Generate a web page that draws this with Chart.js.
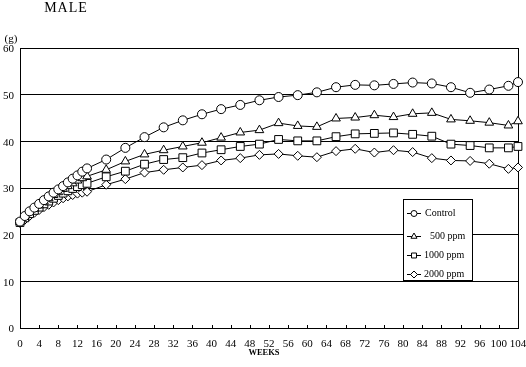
<!DOCTYPE html>
<html>
<head>
<meta charset="utf-8">
<script src="https://cdn.jsdelivr.net/npm/chart.js@4/dist/chart.umd.min.js"></script>
<style>
html,body{margin:0;padding:0;background:#fff;}
#wrap{position:relative;width:526px;height:367px;}
</style>
</head>
<body>
<div id="wrap"><canvas id="c" width="526" height="367"></canvas></div>
<script>
const weeks = [0,1,2,3,4,5,6,7,8,9,10,11,12,13,14,18,22,26,30,34,38,42,46,50,54,58,62,66,70,74,78,82,86,90,94,98,102,104];
const control = [22.8,24.0,25.0,25.8,26.6,27.4,28.2,29.0,29.7,30.4,31.2,32.0,32.7,33.5,34.2,
  36.1,38.6,40.9,43.0,44.5,45.8,46.9,47.8,48.8,49.5,49.9,50.5,51.6,52.1,52.0,52.3,52.6,52.4,51.6,50.4,51.1,51.9,52.7];
const ppm500 = [22.7,23.8,24.8,25.6,26.3,27.1,27.8,28.5,29.1,29.8,30.4,31.0,31.6,32.1,32.5,
  33.9,35.7,37.2,38.1,38.9,39.7,40.8,41.9,42.4,43.9,43.3,43.1,44.9,45.1,45.6,45.2,45.9,46.1,44.7,44.4,44.0,43.4,44.3];
const ppm1000 = [22.6,23.6,24.5,25.2,25.9,26.6,27.2,27.8,28.4,28.9,29.4,29.9,30.3,30.7,31.0,
  32.4,33.6,35.1,36.1,36.5,37.5,38.2,38.9,39.4,40.4,40.1,40.1,41.0,41.6,41.7,41.8,41.5,41.1,39.4,39.1,38.6,38.6,38.9];
const ppm2000 = [22.5,23.2,24.0,24.7,25.3,25.9,26.4,26.9,27.4,27.8,28.2,28.5,28.8,29.0,29.2,
  30.7,31.9,33.3,33.9,34.4,34.9,35.9,36.4,37.1,37.3,36.9,36.6,37.9,38.4,37.6,38.1,37.7,36.4,35.9,35.8,35.2,34.1,34.4];
const seriesLabels = ['Control','500 ppm','1000 ppm','2000 ppm'];
const seriesMarkers = ['circle','triangle','rect','rectRot'];
const seriesValues = [control, ppm500, ppm1000, ppm2000];
const xTicks = [0,4,8,12,16,20,24,28,32,36,40,44,48,52,56,60,64,68,72,76,80,84,88,92,96,100,104];
const yTicks = [0,10,20,30,40,50,60];
const chartTitle = 'MALE';
const yUnit = '(g)';
const xTitle = 'WEEKS';

const FONT = '"Liberation Serif", "DejaVu Serif", serif';
const markerRadius = [4.5,5,5.5,4.5];
const legendRadius = [3,3.5,3.5,3.5];

const datasets = seriesValues.map((vals, i) => ({
  label: seriesLabels[i],
  data: weeks.map((w, j) => ({x: w, y: vals[j]})),
  borderColor: '#000',
  borderWidth: 1,
  backgroundColor: '#fff',
  pointStyle: seriesMarkers[i],
  pointRadius: markerRadius[i],
  pointBorderWidth: 1,
  pointBorderColor: '#000',
  pointBackgroundColor: '#fff',
  tension: 0,
  clip: false
}));

const decor = {
  id: 'decor',
  beforeDatasetsDraw(chart) {
    const ctx = chart.ctx, a = chart.chartArea, xs = chart.scales.x;
    ctx.save();
    ctx.strokeStyle = '#000';
    ctx.lineWidth = 1;
    ctx.beginPath();
    ctx.moveTo(Math.round(a.right) + 0.5, a.top);
    ctx.lineTo(Math.round(a.right) + 0.5, a.bottom);
    ctx.stroke();
    xTicks.forEach(v => {
      if (v === 0 || v === 104) return;
      const px = Math.round(xs.getPixelForValue(v)) + 0.5;
      ctx.beginPath();
      ctx.moveTo(px, a.bottom);
      ctx.lineTo(px, a.bottom - 3);
      ctx.stroke();
    });
    ctx.restore();
  },
  afterDatasetsDraw(chart) {
    const ctx = chart.ctx;
    ctx.save();
    const bx = 403.5, by = 199.5, bw = 69, bh = 81;
    ctx.fillStyle = '#fff';
    ctx.fillRect(bx, by, bw, bh);
    ctx.strokeStyle = '#000';
    ctx.lineWidth = 1;
    ctx.strokeRect(bx, by, bw, bh);
    ctx.font = '10px ' + FONT;
    ctx.textBaseline = 'middle';
    ctx.textAlign = 'left';
    const rowY = [213, 236, 255, 274];
    const textX = [425, 430, 424, 424];
    seriesLabels.forEach((lab, i) => {
      const y = rowY[i] + 0.5;
      ctx.strokeStyle = '#000';
      ctx.beginPath();
      ctx.moveTo(407, y);
      ctx.lineTo(421, y);
      ctx.stroke();
      ctx.fillStyle = '#fff';
      ctx.strokeStyle = '#000';
      Chart.helpers.drawPoint(ctx, {pointStyle: seriesMarkers[i], radius: legendRadius[i], borderWidth: 1}, 414, y);
      ctx.fillStyle = '#000';
      ctx.fillText(lab, textX[i], rowY[i]);
    });
    ctx.restore();
  },
  afterDraw(chart) {
    const ctx = chart.ctx;
    ctx.save();
    ctx.fillStyle = '#000';
    ctx.textBaseline = 'middle';
    ctx.textAlign = 'center';
    try { ctx.letterSpacing = '1px'; } catch (e) {}
    ctx.font = '14px ' + FONT;
    ctx.fillText(chartTitle, 66, 8);
    try { ctx.letterSpacing = '0px'; } catch (e) {}
    ctx.font = '11px ' + FONT;
    ctx.fillText(yUnit, 11, 39);
    ctx.font = 'bold 8.5px ' + FONT;
    ctx.fillText(xTitle, 264, 353);
    ctx.restore();
  }
};

Chart.defaults.font.family = FONT;

new Chart(document.getElementById('c'), {
  type: 'line',
  data: { datasets },
  options: {
    responsive: false,
    animation: false,
    devicePixelRatio: 1,
    layout: { autoPadding: false, padding: { top: 48, right: 8, left: 0, bottom: 0 } },
    plugins: { legend: { display: false }, tooltip: { enabled: false }, title: { display: false } },
    elements: { line: { fill: false } },
    scales: {
      x: {
        type: 'linear', min: 0, max: 104,
        afterFit: s => { s.height = 39; s.paddingLeft = 0; s.paddingRight = 0; },
        afterBuildTicks: s => { s.ticks = xTicks.map(v => ({value: v})); },
        grid: { display: false, drawTicks: false },
        border: { display: true, color: '#000', width: 1 },
        ticks: { color: '#000', font: { size: 11, family: FONT }, padding: 10, maxRotation: 0, autoSkip: false }
      },
      y: {
        min: 0, max: 60,
        afterFit: s => { s.width = 20; s.paddingTop = 0; s.paddingBottom = 0; },
        afterBuildTicks: s => { s.ticks = yTicks.map(v => ({value: v})); },
        grid: { color: '#000', lineWidth: 1, drawTicks: false },
        border: { display: true, color: '#000', width: 1 },
        ticks: { color: '#000', font: { size: 11, family: FONT }, padding: 6, labelOffset: 1.5 }
      }
    }
  },
  plugins: [decor]
});
</script>
</body>
</html>
